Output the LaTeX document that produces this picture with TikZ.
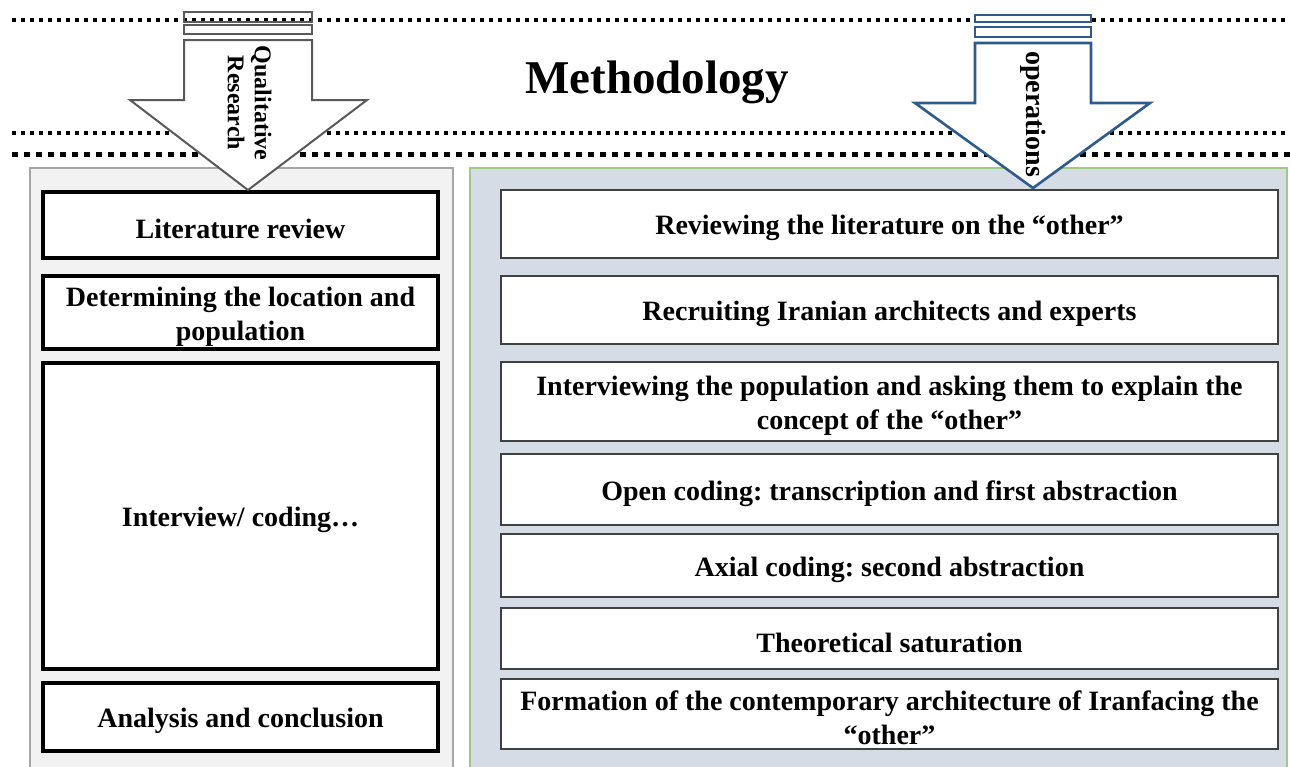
\documentclass[tikz,border=0pt]{standalone}
\usepackage{fontspec}
\setmainfont{Liberation Serif}
\frenchspacing
\definecolor{lpanelfill}{HTML}{F2F2F2}
\definecolor{lpaneldraw}{HTML}{A6A6A6}
\definecolor{rpanelfill}{HTML}{D6DCE5}
\definecolor{rpaneldraw}{HTML}{9DCB80}
\definecolor{rboxdraw}{HTML}{404040}
\definecolor{larrowc}{HTML}{595959}
\definecolor{rarrowc}{HTML}{2F5A8C}
\begin{document}
\begin{tikzpicture}[x=1pt,y=-1pt,
  dotthin/.style={line width=3.4pt, dash pattern=on 4pt off 5pt},
  dotthick/.style={line width=5pt, dash pattern=on 6pt off 6pt},
  boxfont/.style={font=\fontsize{28}{34}\selectfont\bfseries\frenchspacing},
  lbl/.style={boxfont, align=center, inner sep=0pt, yshift=-4pt},
  lbox/.style={draw=black, line width=4pt, fill=white, minimum width=395pt, inner sep=0pt},
  rbox/.style={draw=rboxdraw, line width=2.8pt, fill=white, minimum width=777pt, inner sep=0pt},
  lpanel/.style={draw=lpaneldraw, line width=2pt, fill=lpanelfill},
  rpanel/.style={draw=rpaneldraw, line width=2pt, fill=rpanelfill},
  larrow/.style={draw=larrowc, line width=2pt, line join=miter},
  rarrow/.style={draw=rarrowc, line width=2.6pt, line join=miter},
]
\useasboundingbox (0,0) rectangle (1290,766);
\fill[white] (0,0) rectangle (1290,766);
% dotted guide lines
\draw[dotthin] (12,20) -- (1290,20);
\draw[dotthin] (12,133) -- (1290,133);
\draw[dotthick] (12,154) -- (1290,154);
% panels
\draw[lpanel] (30,168) rectangle (453,775);
\draw[rpanel] (470,168) rectangle (1287,775);
% left boxes
\node[lbox, minimum height=66pt, label={[lbl]center:Literature review}] (lit) at (240.5,225) {};
\node[lbox, minimum height=73pt, label={[lbl]center:{Determining the location and\\population}}] (det) at (240.5,312.5) {};
\node[lbox, minimum height=306pt, label={[lbl]center:Interview/ coding…}] (intc) at (240.5,516) {};
\node[lbox, minimum height=68pt, label={[lbl]center:Analysis and conclusion}] (ana) at (240.5,717) {};
% right boxes
\node[rbox, minimum height=68pt, label={[lbl]center:Reviewing the literature on the “other”}] (rev) at (889.5,224) {};
\node[rbox, minimum height=68pt, label={[lbl]center:Recruiting Iranian architects and experts}] (rec) at (889.5,310) {};
\node[rbox, minimum height=79pt, label={[lbl]center:{Interviewing the population and asking them to explain the\\concept of the “other”}}] (intv) at (889.5,401.5) {};
\node[rbox, minimum height=71pt, label={[lbl]center:Open coding: transcription and first abstraction}] (open) at (889.5,489.5) {};
\node[rbox, minimum height=63pt, label={[lbl]center:Axial coding: second abstraction}] (axial) at (889.5,565.5) {};
\node[rbox, minimum height=61pt, label={[lbl]center:Theoretical saturation}] (theo) at (889.5,638.5) {};
\node[rbox, minimum height=70pt, label={[lbl]center:{Formation of the contemporary architecture of Iranfacing the\\“other”}}] (form) at (889.5,714) {};
% left arrow
\draw[larrow] (184,12) rectangle (312,22);
\draw[larrow] (184,25) rectangle (312,34);
\draw[larrow, fill=white] (184,40) -- (312,40) -- (312,100) -- (367,100) -- (248,190) -- (130,100) -- (184,100) -- cycle;
% right arrow
\draw[rarrow, fill=white] (975,15) rectangle (1091,22);
\draw[rarrow, fill=white] (975,27) rectangle (1091,37);
\draw[rarrow, fill=white] (975,43) -- (1091,43) -- (1091,103) -- (1150,103) -- (1033,188) -- (915,103) -- (975,103) -- cycle;
% labels
\node[font=\fontsize{47}{50}\selectfont\bfseries, anchor=base] (title) at (657,93) {Methodology};
\node[rotate=-90, align=center, font=\fontsize{24}{27}\selectfont\bfseries, inner sep=0pt] (qual) at (249.5,103) {Qualitative\\Research};
\node[rotate=-90, font=\fontsize{28}{30}\selectfont\bfseries, inner sep=0pt] (oper) at (1033,114) {operations};
\end{tikzpicture}
\end{document}
